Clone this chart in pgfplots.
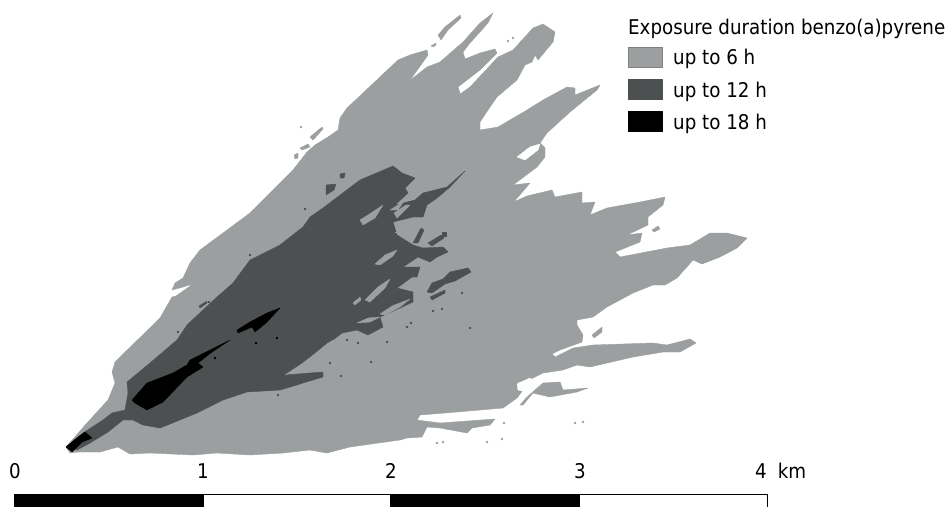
\documentclass[border=0pt]{standalone}
\usepackage{pgfplots}
\pgfplotsset{compat=1.18}
\usepackage{fontspec}
\setmainfont{DejaVu Sans Condensed}
\definecolor{lg}{HTML}{9C9FA0}
\definecolor{dg}{HTML}{4D5051}
\begin{document}
\begin{tikzpicture}
\begin{axis}[scale only axis,width=950pt,height=506pt,xmin=0,xmax=950,ymin=0,ymax=506,y dir=reverse,
 ticks=none,axis line style={draw=none},
 every axis plot/.append style={line width=0.4pt,line join=round},
 lgp/.style={fill=lg,draw=lg},dgp/.style={fill=dg,draw=dg},kp/.style={fill=black,draw=black},wp/.style={fill=white,draw=white}]
% up to 6 h
\addplot[lgp] coordinates {(66,447)(87,423)(108,400)(115,383)(112,372)(115,362)(160,318)(172,297)(176,296)(193,284)(183,287)(172,290)(175,283)(183,278)(190,263)(200,250)(250,213)(293,170)(307,152)(315,145)(328,137)(338,130)(340,118)(347,108)(363,93)(398,60)(410,55)(427,50)(428,55)(408,83)(413,78)(427,67)(440,62)(463,42)(480,23)(493,13)(488,23)(470,43)(463,52)(465,59)(480,53)(495,49)(497,53)(480,70)(458,87)(460,93)(456,97)(470,87)(498,57)(513,50)(533,28)(543,24)(555,32)(553,42)(538,60)(535,55)(532,62)(525,65)(517,80)(497,97)(488,110)(480,122)(480,130)(498,127)(527,110)(543,100)(567,87)(575,88)(575,95)(600,85)(597,90)(570,112)(547,133)(540,143)(545,148)(545,157)(537,167)(513,185)(530,183)(513,203)(488,218)(500,208)(527,196)(552,190)(555,197)(582,192)(582,203)(595,202)(590,215)(607,208)(640,202)(665,197)(663,205)(648,217)(648,225)(627,235)(642,233)(640,242)(615,252)(620,257)(667,248)(690,245)(710,233)(727,233)(747,238)(737,248)(720,257)(702,264)(693,260)(677,278)(665,285)(653,285)(633,293)(607,307)(593,317)(577,320)(577,325)(583,335)(582,342)(560,350)(552,354)(555,357)(573,348)(593,345)(653,343)(667,345)(690,339)(696,343)(680,352)(663,352)(633,357)(590,367)(577,365)(563,370)(543,373)(533,378)(517,383)(523,390)(517,398)(503,408)(457,412)(420,415)(417,420)(440,423)(495,419)(490,425)(472,428)(467,433)(440,428)(427,427)(422,437)(407,438)(400,440)(350,447)(327,453)(310,450)(283,453)(250,455)(217,453)(193,455)(150,453)(130,454)(118,447)(100,452)(78,452)(70,453)} --cycle;
\addplot[lgp] coordinates {(520,405)(527,397)(543,383)(560,382)(563,390)(588,388)(577,392)(550,397)(533,393)(523,405)} --cycle;
\addplot[lgp] coordinates {(592,335)(602,327)(602,332)(594,338)} --cycle;
\addplot[lgp] coordinates {(652,230)(658,226)(660,229)(654,232)} --cycle;
\addplot[lgp] coordinates {(438,35)(445,27)(460,15)(461,18)(448,30)(441,40)} --cycle;
\addplot[lgp] coordinates {(431,46)(436,43)(436,45)(433,47)} --cycle;
\addplot[lgp] coordinates {(300,148)(308,144)(310,147)(302,150)} --cycle;
\addplot[lgp] coordinates {(310,137)(322,127)(323,129)(313,140)} --cycle;
\addplot[lgp] coordinates {(294,155)(298,153)(298,158)(295,159)} --cycle;
\addplot[wp] coordinates {(517,157)(530,147)(540,144)(538,150)(525,160)} --cycle;
\addplot[wp] coordinates {(517,384)(530,378)(533,382)(527,392)(518,390)} --cycle;
\addplot[only marks,mark=*,mark size=1.1pt,mark options={fill=lg,draw=lg}] coordinates {(508,41)(513,38)(575,423)(583,422)(504,423)(487,442)(502,439)(437,443)(443,442)(301,127)};
% up to 12 h
\addplot[dgp] coordinates {(66,447)(83,433)(103,420)(112,413)(125,410)(128,393)(127,382)(150,363)(177,340)(187,325)(217,297)(233,283)(250,260)(270,250)(280,245)(303,227)(310,217)(323,208)(360,180)(393,166)(402,173)(415,178)(405,188)(408,193)(395,205)(415,200)(423,193)(447,187)(465,171)(450,187)(437,198)(427,205)(423,217)(413,217)(393,222)(397,235)(413,245)(423,248)(443,247)(448,252)(437,257)(430,262)(418,257)(403,267)(420,267)(417,277)(412,277)(397,288)(413,292)(413,302)(400,308)(380,317)(383,327)(368,335)(357,330)(342,333)(333,340)(327,343)(303,363)(285,375)(323,372)(323,377)(303,383)(297,385)(280,390)(247,392)(223,400)(197,413)(160,428)(143,425)(133,420)(123,420)(108,432)(90,443)(77,450)} --cycle;
\addplot[dgp] coordinates {(427,292)(432,283)(443,279)(450,272)(468,268)(471,272)(455,281)(445,284)(432,293)} --cycle;
\addplot[dgp] coordinates {(413,243)(421,228)(424,230)(418,243)} --cycle;
\addplot[dgp] coordinates {(428,243)(441,235)(444,238)(432,246)} --cycle;
\addplot[dgp] coordinates {(430,297)(445,290)(445,293)(432,300)} --cycle;
\addplot[dgp] coordinates {(326,185)(336,184)(334,190)(326,195)} --cycle;
\addplot[dgp] coordinates {(340,174)(345,173)(344,178)(340,178)} --cycle;
\addplot[dgp] coordinates {(426,256)(433,251)(434,253)(428,258)} --cycle;
\addplot[dgp] coordinates {(442,232)(446,232)(446,236)(442,236)} --cycle;
\addplot[dgp] coordinates {(199,306)(207,301)(207,303)(200,308)} --cycle;
\addplot[only marks,mark=*,mark size=1pt,mark options={fill=dg,draw=dg}] coordinates {(462,293)(470,328)(442,309)(433,311)(407,327)(411,323)(278,395)(250,255)(178,332)(209,302)(305,209)(330,363)(341,376)(371,362)(387,342)(358,343)(347,340)};
% holes in the 12 h area
\addplot[lgp] coordinates {(360,220)(368,215)(383,205)(375,218)(363,225)} --cycle;
\addplot[lgp] coordinates {(394,213)(406,205)(410,205)(397,218)} --cycle;
\addplot[lgp] coordinates {(390,210)(398,205)(408,195)(398,210)} --cycle;
\addplot[lgp] coordinates {(375,264)(385,255)(397,250)(393,256)(380,265)} --cycle;
\addplot[lgp] coordinates {(395,233)(405,226)(412,225)(402,232)} --cycle;
\addplot[lgp] coordinates {(353,303)(360,297)(361,300)(355,305)} --cycle;
\addplot[lgp] coordinates {(365,300)(378,287)(390,279)(385,288)(370,302)} --cycle;
\addplot[lgp] coordinates {(380,314)(392,306)(410,299)(400,307)(385,315)} --cycle;
\addplot[lgp] coordinates {(357,323)(368,318)(380,317)(370,322)} --cycle;
\addplot[lgp] coordinates {(285,375)(303,363)(333,340)(316,365)(300,368)} --cycle;
\addplot[lgp] coordinates {(176,305)(184,296)(185,302)} --cycle;
% up to 18 h
\addplot[kp] coordinates {(132,400)(147,383)(173,373)(187,365)(190,360)(210,350)(230,340)(212,352)(198,363)(203,367)(187,377)(163,402)(147,410)(135,403)} --cycle;
\addplot[kp] coordinates {(237,330)(250,322)(267,313)(280,308)(267,322)(255,332)(252,327)(238,333)} --cycle;
\addplot[kp] coordinates {(66,447)(78,437)(85,432)(92,438)(82,442)(72,452)} --cycle;
\addplot[only marks,mark=*,mark size=1pt,mark options={fill=black,draw=black}] coordinates {(215,358)(256,343)(277,338)};
% scale bar
\addplot[fill=black,draw=black] coordinates {(14,494)(203,494)(203,506)(14,506)} --cycle;
\addplot[fill=white,draw=black] coordinates {(203,494)(390,494)(390,507)(203,507)} --cycle;
\addplot[fill=black,draw=black] coordinates {(390,494)(579,494)(579,506)(390,506)} --cycle;
\addplot[fill=white,draw=black] coordinates {(579,494)(767,494)(767,507)(579,507)} --cycle;
% legend swatches
\addplot[fill=lg,draw=gray] coordinates {(628,47)(662,47)(662,67)(628,67)} --cycle;
\addplot[fill=dg,draw=dg] coordinates {(628,79)(662,79)(662,99)(628,99)} --cycle;
\addplot[fill=black,draw=black] coordinates {(628,111)(662,111)(662,131)(628,131)} --cycle;
% text
\begin{scope}[every node/.style={inner sep=0pt,font=\fontsize{20.3}{22}\selectfont,text=black}]
\node[anchor=base west] at (axis cs:628,34) {Exposure duration benzo(a)pyrene};
\node[anchor=base west] at (axis cs:673,64) {up to 6 h};
\node[anchor=base west] at (axis cs:673,97) {up to 12 h};
\node[anchor=base west] at (axis cs:673,129) {up to 18 h};
\node[anchor=base] at (axis cs:15,478) {0};
\node[anchor=base] at (axis cs:203,478) {1};
\node[anchor=base] at (axis cs:391,478) {2};
\node[anchor=base] at (axis cs:580,478) {3};
\node[anchor=base west] at (axis cs:755,478) {4\hspace{11pt}km};
\end{scope}
\end{axis}
\end{tikzpicture}
\end{document}
